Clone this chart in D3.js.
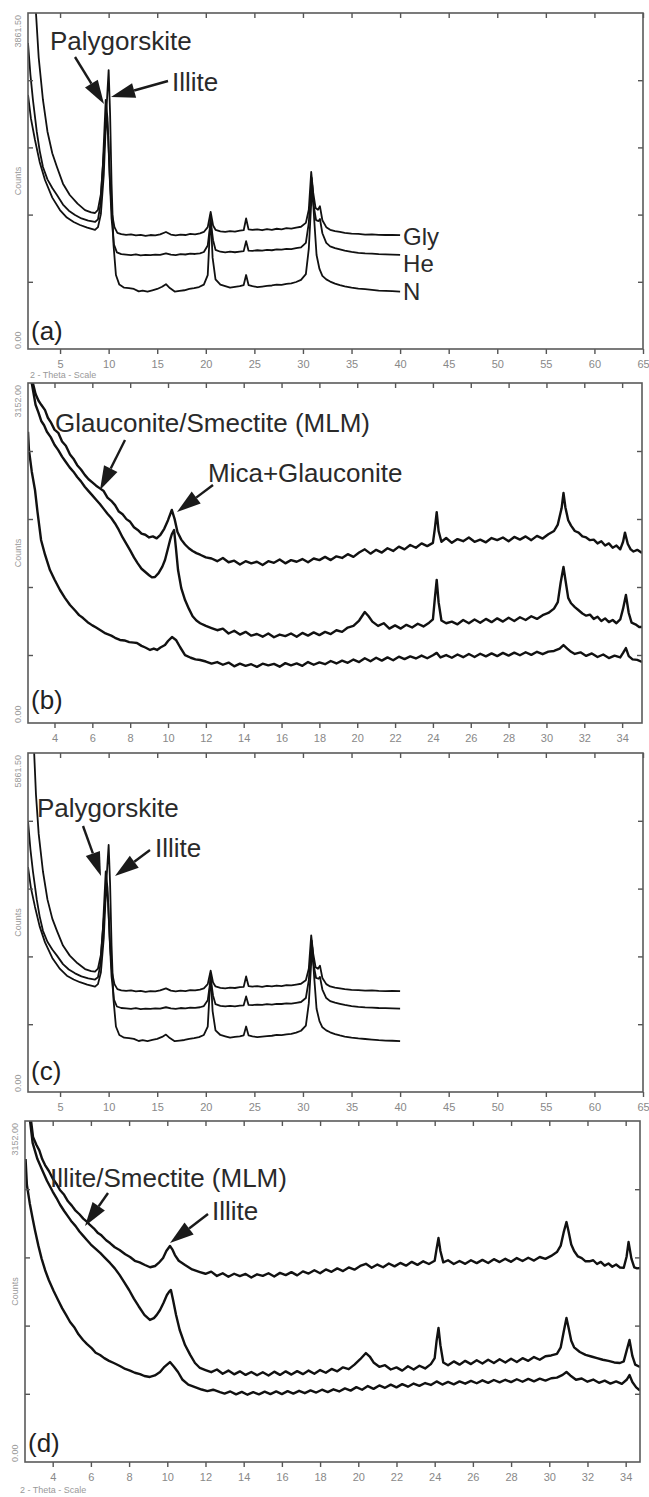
<!DOCTYPE html>
<html>
<head>
<meta charset="utf-8">
<script src="https://cdn.jsdelivr.net/npm/d3@7/dist/d3.min.js"></script>
<style>
  body { margin: 0; background: #fff; }
  svg { display: block; }
  text { font-family: "Liberation Sans", Arial, sans-serif; }
</style>
</head>
<body>
<svg id="chart" width="649" height="1497"></svg>
<script>
// ---- data: [2-theta, counts] ----
const aGly = [[2.3,4500],[2.52,3862],[2.8,3350],[3.24,2862],[3.7,2500],[4.2,2250],[4.68,2092],[5.3,1900],[6.0,1770],[6.8,1670],[7.57,1596],[8.2,1570],[8.6,1563],[8.9,1600],[9.2,1780],[9.5,2250],[9.8,2700],[9.95,2450],[10.15,1900],[10.35,1550],[10.6,1400],[10.9,1335],[11.3,1320],[11.8,1312],[12.3,1318],[12.8,1305],[13.3,1312],[13.8,1300],[14.3,1310],[14.8,1305],[15.3,1318],[15.9,1345],[16.4,1315],[16.9,1305],[17.4,1315],[17.9,1310],[18.4,1322],[18.9,1318],[19.4,1330],[19.8,1345],[20.2,1400],[20.5,1575],[20.75,1420],[21.0,1370],[21.5,1352],[22.0,1345],[22.5,1355],[23.0,1350],[23.5,1360],[23.9,1365],[24.15,1500],[24.4,1375],[24.8,1368],[25.3,1375],[25.8,1365],[26.3,1378],[26.8,1370],[27.3,1382],[27.8,1375],[28.3,1388],[28.8,1383],[29.3,1395],[29.8,1405],[30.3,1450],[30.6,1600],[30.85,2034],[31.05,1800],[31.3,1620],[31.55,1600],[31.75,1640],[32.0,1480],[32.4,1400],[32.8,1370],[33.3,1355],[33.8,1345],[34.3,1335],[35.0,1325],[35.7,1322],[36.4,1315],[37.1,1318],[37.8,1312],[38.5,1310],[39.2,1312],[40,1308]];
const aHe = [[1.7,3517],[1.95,3150],[2.21,2862],[2.6,2500],[2.9,2280],[3.24,2092],[3.7,1950],[4.2,1850],[4.68,1770],[5.3,1660],[5.9,1590],[6.54,1540],[7.2,1500],[7.9,1475],[8.6,1460],[8.9,1490],[9.15,1650],[9.4,2100],[9.7,2862],[9.88,2650],[10.1,2000],[10.3,1500],[10.55,1200],[10.85,1110],[11.3,1090],[11.8,1085],[12.3,1080],[12.8,1088],[13.3,1075],[13.8,1082],[14.3,1078],[14.8,1085],[15.3,1082],[15.9,1100],[16.4,1085],[16.9,1080],[17.4,1090],[17.9,1086],[18.4,1095],[18.9,1092],[19.4,1100],[19.8,1115],[20.2,1190],[20.5,1470],[20.75,1250],[21.0,1140],[21.5,1118],[22.0,1110],[22.5,1118],[23.0,1112],[23.5,1120],[23.9,1125],[24.15,1240],[24.4,1130],[24.8,1128],[25.3,1135],[25.8,1130],[26.3,1140],[26.8,1135],[27.3,1145],[27.8,1142],[28.3,1150],[28.8,1148],[29.3,1158],[29.8,1168],[30.3,1220],[30.6,1450],[30.9,1965],[31.1,1650],[31.35,1480],[31.6,1470],[31.75,1494],[32.0,1330],[32.4,1220],[32.8,1180],[33.3,1160],[33.8,1145],[34.3,1130],[35.0,1115],[35.7,1105],[36.4,1098],[37.1,1095],[37.8,1090],[38.5,1088],[39.2,1085],[40,1082]];
const aN = [[1.7,2920],[2.0,2650],[2.42,2402],[2.9,2150],[3.45,1942],[4.2,1740],[4.99,1597],[5.7,1510],[6.4,1460],[7.05,1425],[7.8,1395],[8.6,1368],[8.9,1400],[9.2,1550],[9.5,2000],[9.75,2700],[10.0,3206],[10.15,2700],[10.3,1900],[10.5,1200],[10.75,850],[11.1,740],[11.6,705],[12.1,700],[12.6,690],[13.1,662],[13.5,672],[14.0,660],[14.5,675],[15.0,690],[15.5,715],[15.9,745],[16.3,700],[16.8,660],[17.3,668],[17.8,675],[18.3,690],[18.8,700],[19.3,712],[19.8,740],[20.2,850],[20.5,1540],[20.7,1050],[21.0,800],[21.5,740],[22.0,722],[22.5,705],[23.0,715],[23.5,722],[23.9,735],[24.15,850],[24.4,735],[24.8,722],[25.3,712],[25.8,718],[26.3,725],[26.8,730],[27.3,740],[27.8,738],[28.3,748],[28.8,755],[29.3,770],[29.8,795],[30.3,860],[30.6,1150],[30.95,1885],[31.15,1500],[31.4,1080],[31.7,920],[32.0,840],[32.4,800],[32.8,775],[33.3,752],[33.8,735],[34.3,720],[35.0,705],[35.7,695],[36.4,688],[37.1,680],[37.8,672],[38.5,668],[39.2,665],[40,660]];

const bTop = [[2.7,3400],[2.86,3150],[3.0,3050],[3.15,2990],[3.3,2950],[3.5,2900],[3.65,2830],[3.8,2790],[4.0,2720],[4.2,2690],[4.4,2610],[4.6,2570],[4.82,2490],[5.0,2450],[5.2,2390],[5.4,2350],[5.6,2300],[5.8,2260],[6.0,2230],[6.2,2200],[6.4,2175],[6.6,2150],[6.8,2090],[7.0,2060],[7.2,2020],[7.4,1960],[7.6,1935],[7.8,1890],[8.0,1865],[8.2,1815],[8.4,1790],[8.6,1755],[8.8,1745],[9.0,1720],[9.2,1730],[9.4,1712],[9.6,1745],[9.8,1800],[10.0,1880],[10.2,1975],[10.35,1890],[10.5,1770],[10.7,1700],[10.9,1655],[11.1,1620],[11.3,1595],[11.5,1575],[11.7,1560],[12.0,1535],[12.3,1525],[12.6,1500],[12.9,1530],[13.2,1490],[13.5,1505],[13.8,1470],[14.1,1500],[14.4,1480],[14.7,1495],[15.0,1465],[15.3,1500],[15.6,1485],[15.9,1515],[16.2,1480],[16.5,1510],[16.8,1495],[17.1,1520],[17.4,1490],[17.7,1525],[18.0,1510],[18.3,1540],[18.6,1510],[18.9,1545],[19.2,1530],[19.5,1565],[19.8,1540],[20.1,1580],[20.4,1610],[20.7,1570],[21.0,1605],[21.3,1580],[21.6,1620],[21.9,1595],[22.2,1635],[22.5,1610],[22.8,1650],[23.1,1625],[23.4,1665],[23.7,1640],[24.0,1670],[24.1,1800],[24.2,1955],[24.3,1780],[24.45,1680],[24.7,1715],[25.0,1670],[25.3,1705],[25.6,1685],[25.9,1720],[26.2,1680],[26.5,1700],[26.8,1675],[27.1,1715],[27.4,1695],[27.7,1720],[28.0,1685],[28.3,1725],[28.6,1700],[28.9,1730],[29.2,1695],[29.5,1735],[29.8,1710],[30.1,1750],[30.4,1780],[30.6,1840],[30.8,1990],[30.9,2132],[31.0,2000],[31.15,1880],[31.3,1830],[31.5,1780],[31.7,1765],[31.9,1730],[32.1,1720],[32.3,1695],[32.5,1700],[32.7,1665],[32.9,1685],[33.1,1645],[33.3,1665],[33.5,1625],[33.7,1645],[33.9,1610],[34.05,1680],[34.15,1765],[34.3,1660],[34.45,1610],[34.6,1590],[34.8,1605],[35.05,1576]];
const bMid = [[2.75,3200],[3.0,2950],[3.15,2880],[3.3,2800],[3.45,2760],[3.6,2700],[3.8,2650],[4.0,2580],[4.2,2530],[4.4,2470],[4.6,2420],[4.8,2370],[5.0,2330],[5.2,2280],[5.4,2240],[5.6,2190],[5.8,2150],[6.0,2110],[6.2,2070],[6.4,2030],[6.6,1985],[6.8,1940],[7.0,1900],[7.2,1850],[7.4,1790],[7.6,1720],[7.8,1660],[8.0,1600],[8.2,1535],[8.4,1480],[8.6,1430],[8.8,1400],[9.0,1370],[9.15,1350],[9.31,1354],[9.5,1390],[9.7,1450],[9.84,1511],[10.0,1620],[10.11,1697],[10.2,1750],[10.32,1789],[10.42,1620],[10.53,1418],[10.7,1250],[10.9,1140],[11.1,1060],[11.3,990],[11.5,950],[11.7,925],[12.0,900],[12.3,880],[12.6,860],[12.9,875],[13.2,830],[13.5,855],[13.8,820],[14.1,845],[14.4,810],[14.7,825],[15.0,800],[15.3,830],[15.6,795],[15.9,820],[16.2,805],[16.5,830],[16.8,800],[17.1,835],[17.4,810],[17.7,840],[18.0,815],[18.3,845],[18.6,825],[18.9,860],[19.2,845],[19.5,885],[19.8,900],[20.1,950],[20.4,1029],[20.6,990],[20.8,940],[21.1,900],[21.4,925],[21.7,875],[22.0,905],[22.3,875],[22.6,910],[22.9,885],[23.2,920],[23.5,895],[23.8,930],[24.0,960],[24.1,1150],[24.2,1326],[24.3,1120],[24.45,950],[24.7,925],[25.0,940],[25.3,915],[25.6,955],[25.9,925],[26.2,960],[26.5,930],[26.8,965],[27.1,935],[27.4,970],[27.7,940],[28.0,975],[28.3,945],[28.6,980],[28.9,955],[29.2,990],[29.5,965],[29.8,1000],[30.1,1020],[30.4,1060],[30.6,1120],[30.75,1300],[30.9,1446],[31.0,1330],[31.15,1160],[31.3,1110],[31.5,1075],[31.7,1045],[31.9,1015],[32.1,995],[32.3,1005],[32.5,965],[32.7,985],[32.9,945],[33.1,970],[33.3,935],[33.5,955],[33.7,925],[33.9,960],[34.05,1060],[34.2,1187],[34.35,1020],[34.5,930],[34.7,915],[34.9,890],[35.05,890]];
const bBot = [[2.6,2700],[2.65,2531],[2.8,2330],[2.97,2160],[3.1,1960],[3.29,1697],[3.5,1560],[3.76,1418],[4.0,1330],[4.29,1233],[4.55,1160],[4.82,1094],[5.1,1040],[5.3,1000],[5.51,973],[5.75,935],[6.0,905],[6.2,885],[6.41,862],[6.7,830],[7.0,810],[7.2,790],[7.46,770],[7.7,765],[7.95,750],[8.2,745],[8.36,742],[8.6,715],[8.8,700],[9.05,677],[9.25,690],[9.42,677],[9.6,700],[9.84,723],[10.0,760],[10.21,797],[10.42,770],[10.65,700],[10.9,630],[11.2,605],[11.45,590],[11.7,584],[12.0,570],[12.3,550],[12.6,565],[12.9,540],[13.2,560],[13.5,525],[13.8,550],[14.1,530],[14.4,545],[14.7,520],[15.0,550],[15.3,535],[15.6,548],[15.9,522],[16.2,555],[16.5,535],[16.8,552],[17.1,530],[17.4,565],[17.7,540],[18.0,562],[18.3,545],[18.6,575],[18.9,552],[19.2,578],[19.5,558],[19.8,588],[20.1,565],[20.4,600],[20.7,572],[21.0,605],[21.3,578],[21.6,608],[21.9,582],[22.2,615],[22.5,592],[22.8,618],[23.1,598],[23.4,625],[23.7,600],[24.0,628],[24.2,650],[24.4,608],[24.7,630],[25.0,605],[25.3,635],[25.6,610],[25.9,640],[26.2,612],[26.5,642],[26.8,618],[27.1,645],[27.4,620],[27.7,650],[28.0,625],[28.3,652],[28.6,628],[28.9,656],[29.2,632],[29.5,660],[29.8,638],[30.1,662],[30.4,668],[30.7,690],[30.9,723],[31.1,690],[31.3,660],[31.5,640],[31.8,655],[32.1,622],[32.4,645],[32.7,612],[33.0,635],[33.3,602],[33.6,625],[33.9,608],[34.05,650],[34.2,695],[34.35,620],[34.55,590],[34.8,585],[35.05,566]];

const dTop = [[2.8,3250],[2.97,3004],[3.15,2930],[3.3,2880],[3.45,2800],[3.6,2745],[3.8,2690],[4.0,2620],[4.2,2570],[4.38,2514],[4.6,2470],[4.8,2410],[5.0,2370],[5.17,2329],[5.4,2290],[5.6,2250],[5.8,2220],[5.95,2191],[6.15,2160],[6.35,2120],[6.55,2095],[6.8,2050],[7.0,2024],[7.25,1985],[7.5,1960],[7.8,1920],[8.05,1895],[8.3,1860],[8.55,1845],[8.83,1821],[9.1,1800],[9.36,1812],[9.55,1840],[9.78,1886],[9.95,1950],[10.14,1997],[10.28,1960],[10.4,1913],[10.6,1860],[10.93,1821],[11.3,1780],[11.71,1756],[12.0,1740],[12.3,1760],[12.6,1720],[12.9,1745],[13.2,1712],[13.5,1740],[13.8,1718],[14.1,1738],[14.4,1705],[14.7,1735],[15.0,1720],[15.3,1745],[15.6,1715],[15.9,1748],[16.2,1728],[16.5,1755],[16.8,1725],[17.1,1762],[17.4,1742],[17.7,1772],[18.0,1745],[18.3,1780],[18.6,1758],[18.9,1790],[19.2,1765],[19.5,1798],[19.8,1778],[20.1,1812],[20.4,1832],[20.7,1795],[21.0,1825],[21.3,1800],[21.6,1835],[21.9,1808],[22.2,1840],[22.5,1815],[22.8,1850],[23.1,1822],[23.4,1855],[23.7,1830],[24.0,1860],[24.1,1970],[24.2,2070],[24.3,1950],[24.45,1845],[24.7,1865],[25.0,1830],[25.3,1858],[25.6,1832],[25.9,1865],[26.2,1838],[26.5,1868],[26.8,1840],[27.1,1875],[27.4,1848],[27.7,1878],[28.0,1850],[28.3,1885],[28.6,1858],[28.9,1888],[29.2,1862],[29.5,1895],[29.8,1878],[30.1,1905],[30.4,1940],[30.6,2000],[30.75,2120],[30.9,2218],[31.0,2140],[31.15,2010],[31.3,1950],[31.5,1900],[31.7,1885],[31.9,1855],[32.1,1855],[32.3,1865],[32.5,1830],[32.7,1850],[32.9,1815],[33.1,1835],[33.3,1805],[33.5,1825],[33.7,1798],[33.9,1795],[34.05,1900],[34.15,2033],[34.3,1880],[34.45,1800],[34.6,1790],[34.75,1793]];
const dMid = [[2.75,3250],[2.95,2950],[3.2,2800],[3.45,2700],[3.7,2600],[4.0,2500],[4.2,2440],[4.38,2380],[4.6,2320],[4.8,2270],[5.0,2220],[5.2,2180],[5.4,2130],[5.6,2090],[5.8,2050],[6.0,2010],[6.25,1970],[6.5,1930],[6.75,1885],[7.0,1840],[7.25,1790],[7.5,1730],[7.75,1660],[8.0,1590],[8.25,1510],[8.5,1440],[8.8,1360],[9.09,1313],[9.3,1330],[9.45,1360],[9.62,1405],[9.8,1470],[9.98,1544],[10.1,1575],[10.19,1590],[10.3,1500],[10.46,1359],[10.65,1220],[10.93,1081],[11.2,990],[11.45,915],[11.71,869],[12.0,850],[12.3,830],[12.6,855],[12.9,815],[13.2,845],[13.5,810],[13.8,838],[14.1,805],[14.4,832],[14.7,802],[15.0,830],[15.3,800],[15.6,835],[15.9,805],[16.2,838],[16.5,808],[16.8,840],[17.1,812],[17.4,845],[17.7,815],[18.0,850],[18.3,825],[18.6,860],[18.9,838],[19.2,875],[19.5,858],[19.8,900],[20.1,950],[20.4,1007],[20.6,975],[20.8,920],[21.1,880],[21.4,895],[21.7,855],[22.0,875],[22.3,845],[22.6,885],[22.9,855],[23.2,890],[23.5,865],[23.8,905],[24.0,960],[24.1,1120],[24.2,1239],[24.3,1080],[24.45,920],[24.7,895],[25.0,930],[25.3,900],[25.6,935],[25.9,905],[26.2,940],[26.5,910],[26.8,945],[27.1,915],[27.4,950],[27.7,920],[28.0,955],[28.3,925],[28.6,960],[28.9,935],[29.2,970],[29.5,945],[29.8,978],[30.1,985],[30.4,1000],[30.6,1060],[30.75,1200],[30.9,1331],[31.0,1250],[31.15,1120],[31.3,1060],[31.6,1017],[31.9,990],[32.2,975],[32.5,960],[32.8,945],[33.1,935],[33.4,920],[33.7,915],[33.9,930],[34.05,1030],[34.2,1128],[34.35,980],[34.5,900],[34.75,878]];
const dBot = [[2.58,2800],[2.65,2560],[2.8,2390],[2.95,2250],[3.07,2144],[3.25,2000],[3.42,1880],[3.6,1775],[3.8,1680],[4.05,1580],[4.28,1497],[4.5,1420],[4.7,1360],[4.91,1294],[5.15,1240],[5.35,1180],[5.59,1128],[5.8,1090],[6.05,1050],[6.25,1010],[6.48,989],[6.7,960],[6.95,935],[7.2,915],[7.52,887],[7.8,860],[8.05,845],[8.3,825],[8.57,813],[8.8,795],[9.09,786],[9.35,800],[9.62,832],[9.85,880],[10.14,924],[10.35,880],[10.56,832],[10.8,760],[11.1,715],[11.45,693],[11.8,670],[12.1,655],[12.4,668],[12.76,645],[13.0,632],[13.3,652],[13.6,625],[13.9,648],[14.2,622],[14.5,645],[14.8,625],[15.1,650],[15.4,628],[15.7,652],[16.0,628],[16.3,655],[16.6,632],[16.9,658],[17.2,636],[17.5,662],[17.8,642],[18.1,668],[18.4,646],[18.7,672],[19.0,652],[19.3,680],[19.6,660],[19.9,692],[20.2,668],[20.5,702],[20.8,676],[21.1,708],[21.4,686],[21.7,715],[22.0,690],[22.3,720],[22.6,696],[22.9,725],[23.2,704],[23.5,730],[23.8,712],[24.1,745],[24.4,716],[24.7,740],[25.0,718],[25.3,745],[25.6,724],[25.9,750],[26.2,728],[26.5,755],[26.8,732],[27.1,758],[27.4,736],[27.7,760],[28.0,738],[28.3,765],[28.6,742],[28.9,768],[29.2,746],[29.5,770],[29.8,752],[30.1,774],[30.4,780],[30.7,805],[30.9,832],[31.1,800],[31.4,760],[31.7,772],[32.0,742],[32.3,762],[32.6,732],[32.9,752],[33.2,725],[33.5,745],[33.8,722],[34.05,760],[34.2,804],[34.35,740],[34.55,690],[34.75,660]];

const ticksWide = [5,10,15,20,25,30,35,40,45,50,55,60,65];
const ticksNarrow = [4,6,8,10,12,14,16,18,20,22,24,26,28,30,32,34];
const yMaxLabels = ["3861.50","3152.00","5861.50","3152.00"];
const panelLetters = ["(a)","(b)","(c)","(d)"];
const sampleNames = ["Gly","He","N"];
const mineralsA = ["Palygorskite","Illite"];
const mineralsB = ["Glauconite/Smectite (MLM)","Mica+Glauconite"];
const mineralsD = ["Illite/Smectite (MLM)","Illite"];

// ---- layout ----
const panels = [
  { box: [28, 13, 643, 349], xDom: [1.7, 65], yMax: 3861.5, ticks: ticksWide, traces: [aGly, aHe, aN],
    notes: [{t: mineralsA[0], x: 50, y: 50}, {t: mineralsA[1], x: 172, y: 91}],
    arrows: [[75, 57, 104, 104], [168, 81, 111, 97]], names: [245, 272, 300], letterY: 340 },
  { box: [28, 383, 642, 723], xDom: [2.6, 35.05], yMax: 3152, ticks: ticksNarrow, traces: [bTop, bMid, bBot],
    notes: [{t: mineralsB[0], x: 55, y: 432}, {t: mineralsB[1], x: 208, y: 482}],
    arrows: [[125, 440, 100, 490], [213, 485, 177, 512]], letterY: 709 },
  { box: [28, 753, 643, 1092], xDom: [1.7, 65], yMax: 4400, ticks: ticksWide, traces: [aGly, aHe, aN],
    notes: [{t: mineralsA[0], x: 37, y: 817}, {t: mineralsA[1], x: 155, y: 857}],
    arrows: [[83, 826, 101, 876], [150, 850, 115, 876]], letterY: 1080 },
  { box: [25, 1121, 640, 1462], xDom: [2.55, 34.75], yMax: 3152, ticks: ticksNarrow, traces: [dTop, dMid, dBot],
    notes: [{t: mineralsD[0], x: 50, y: 1187}, {t: mineralsD[1], x: 212, y: 1220}],
    arrows: [[108, 1193, 85, 1226], [208, 1214, 170, 1243]], letterY: 1452 }
];

const svg = d3.select("#chart");

function drawArrow(g, x1, y1, x2, y2) {
  const ang = Math.atan2(y2 - y1, x2 - x1);
  const len = 24, half = 7.5;
  const bx = x2 - len * Math.cos(ang), by = y2 - len * Math.sin(ang);
  g.append("line").attr("x1", x1).attr("y1", y1).attr("x2", bx).attr("y2", by)
    .attr("stroke", "#1a1a1a").attr("stroke-width", 2.4);
  const px = -Math.sin(ang) * half, py = Math.cos(ang) * half;
  g.append("path")
    .attr("d", `M${x2},${y2}L${bx + px},${by + py}L${bx - px},${by - py}Z`)
    .attr("fill", "#1a1a1a");
}

panels.forEach((p, i) => {
  const [x0, y0, x1, y1] = p.box;
  const x = d3.scaleLinear().domain(p.xDom).range([x0, x1]);
  const y = d3.scaleLinear().domain([0, p.yMax]).range([y1, y0]);
  const g = svg.append("g");

  g.append("clipPath").attr("id", "clip" + i)
    .append("rect").attr("x", x0).attr("y", y0).attr("width", x1 - x0).attr("height", y1 - y0);

  const line = d3.line().x(d => x(d[0])).y(d => y(d[1]));
  const plot = g.append("g").attr("clip-path", `url(#clip${i})`);
  const noisy = p.ticks === ticksNarrow;
  p.traces.forEach(tr => {
    plot.append("path").datum(tr).attr("d", line)
      .attr("fill", "none").attr("stroke", "#111")
      .attr("stroke-width", noisy ? 2.4 : 1.8).attr("stroke-linejoin", "round");
  });

  // axes
  const yTicks = [1, 2, 3, 4].map(k => p.yMax * k / 5);
  const axB = g.append("g").attr("transform", `translate(0,${y1})`)
    .call(d3.axisBottom(x).tickValues(p.ticks).tickSize(5).tickPadding(6).tickFormat(d3.format("d")));
  const axT = g.append("g").attr("transform", `translate(0,${y0})`)
    .call(d3.axisTop(x).tickValues(p.ticks).tickSize(-5).tickFormat(""));
  const axL = g.append("g").attr("transform", `translate(${x0},0)`)
    .call(d3.axisLeft(y).tickValues(yTicks).tickSize(-5).tickFormat(""));
  const axR = g.append("g").attr("transform", `translate(${x1},0)`)
    .call(d3.axisRight(y).tickValues(yTicks).tickSize(-5).tickFormat(""));
  [axB, axT, axL, axR].forEach(a => {
    a.select(".domain").remove();
    a.selectAll(".tick line").attr("stroke", "#555").attr("stroke-width", 1.4);
  });
  axB.selectAll("text").attr("fill", "#888").style("font-size", "11px");

  g.append("rect").attr("x", x0).attr("y", y0).attr("width", x1 - x0).attr("height", y1 - y0)
    .attr("fill", "none").attr("stroke", "#5a5a5a").attr("stroke-width", 1.6);

  // y label texts
  const yl = (txt, yy, anchor) => g.append("text")
    .attr("transform", `translate(${x0 - 7},${yy}) rotate(-90)`)
    .attr("text-anchor", anchor).attr("fill", "#999").style("font-size", "9px").text(txt);
  yl(yMaxLabels[i], y0 + 2, "end");
  yl("Counts", (y0 + y1) / 2, "middle");
  yl("0.00", y1, "start");

  // panel letter
  g.append("text").attr("x", x0 + 3).attr("y", p.letterY)
    .attr("fill", "#222").style("font-size", "26px").text(panelLetters[i]);

  // annotations
  p.notes.forEach(n => g.append("text").attr("x", n.x).attr("y", n.y)
    .attr("fill", "#2a2a2a").style("font-size", "26px").text(n.t));
  p.arrows.forEach(a => drawArrow(g, a[0], a[1], a[2], a[3]));

  if (p.names) {
    p.traces.forEach((tr, k) => {
      const last = tr[tr.length - 1];
      g.append("text").attr("x", x(last[0]) + 3).attr("y", p.names[k])
        .attr("fill", "#2a2a2a").style("font-size", "24px").text(sampleNames[k]);
    });
  }
});

// x axis titles
svg.append("text").attr("x", 30).attr("y", 378).attr("fill", "#999").style("font-size", "9px").text("2 - Theta - Scale");
svg.append("text").attr("x", 20).attr("y", 1493).attr("fill", "#999").style("font-size", "9px").text("2 - Theta - Scale");
</script>
</body>
</html>
